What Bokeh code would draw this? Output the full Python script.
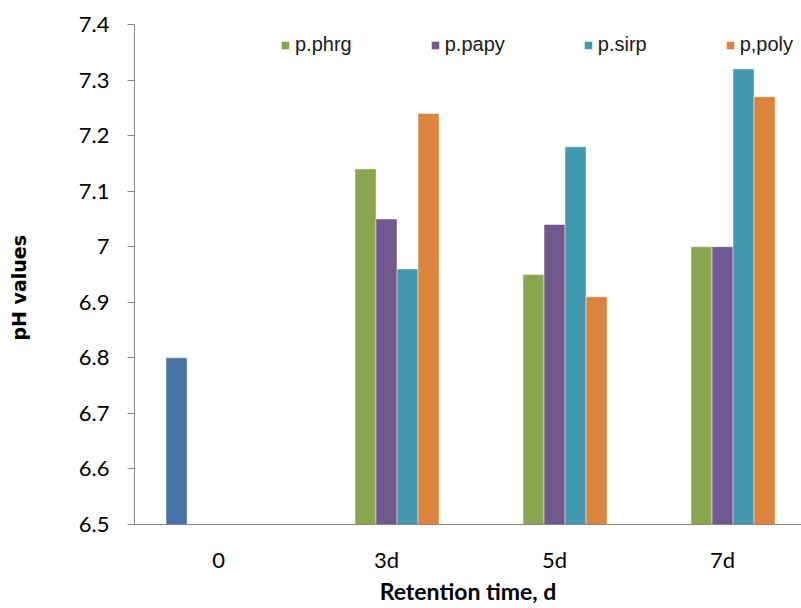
from bokeh.plotting import figure
from bokeh.models import Range1d, FixedTicker, Legend, LegendItem, ColumnDataSource
from bokeh.embed import file_html
from bokeh.resources import INLINE

categories = ["0", "3d", "5d", "7d"]
initial = [6.80, None, None, None]
p_phrg = [None, 7.14, 6.95, 7.00]
p_papy = [None, 7.05, 7.04, 7.00]
p_sirp = [None, 6.96, 7.18, 7.32]
p_poly = [None, 7.24, 6.91, 7.27]
series_names = ["p.phrg", "p.papy", "p.sirp", "p,poly"]
y_ticks = [6.5, 6.6, 6.7, 6.8, 6.9, 7.0, 7.1, 7.2, 7.3, 7.4]
y_tick_labels = ["6.5", "6.6", "6.7", "6.8", "6.9", "7", "7.1", "7.2", "7.3", "7.4"]

colors = ["#4572A7", "#89A54E", "#71588F", "#4198AF", "#DB843D"]
all_series = [initial, p_phrg, p_papy, p_sirp, p_poly]
bar_w = 0.125
offsets = [-0.25, -0.125, 0.0, 0.125, 0.25]

W, H = 801, 608
p = figure(width=W, height=H, output_backend="svg", toolbar_location=None,
           x_range=Range1d(-0.5, 3.47), y_range=Range1d(6.5, 7.4),
           min_border_left=134, min_border_right=0, min_border_top=24,
           min_border_bottom=84)
p.outline_line_color = None
p.xgrid.grid_line_color = None
p.ygrid.grid_line_color = None
p.background_fill_color = "white"
p.border_fill_color = "white"

renderers = []
for s, vals in enumerate(all_series):
    xs = [i + offsets[s] for i in range(len(categories))]
    tops = [float("nan") if v is None else v for v in vals]
    src = ColumnDataSource(dict(x=xs, top=tops))
    r = p.vbar(x="x", top="top", bottom=6.5, width=bar_w, source=src,
               fill_color=colors[s], line_color="white", line_alpha=0.45, line_width=1)
    renderers.append(r)

items = [LegendItem(label=series_names[k], renderers=[renderers[k + 1]]) for k in range(4)]
legend = Legend(items=items, orientation="horizontal", location=(146, 468),
                padding=0, margin=0, spacing=78, label_standoff=5,
                glyph_width=10, glyph_height=10,
                label_text_font="Liberation Sans", label_text_font_size="20px",
                label_text_color="#1a1a1a",
                border_line_color=None, background_fill_alpha=0)
p.add_layout(legend, "center")

# x axis
p.xaxis.ticker = FixedTicker(ticks=list(range(len(categories))))
p.xaxis.major_label_overrides = {i: c for i, c in enumerate(categories)}
p.xaxis.major_tick_out = 0
p.xaxis.major_tick_in = 0
p.xaxis.minor_tick_line_color = None
p.xaxis.axis_line_color = "#868686"
p.xaxis.major_label_text_font = "Lato"
p.xaxis.major_label_text_font_size = "22px"
p.xaxis.major_label_text_color = "black"
p.xaxis.major_label_standoff = 21
p.xaxis.axis_label = "Retention time, d"
p.xaxis.axis_label_text_font = "Lato"
p.xaxis.axis_label_text_font_size = "23px"
p.xaxis.axis_label_text_font_style = "bold"
p.xaxis.axis_label_text_color = "black"
p.xaxis.axis_label_standoff = 1

# y axis
p.yaxis.ticker = FixedTicker(ticks=y_ticks)
p.yaxis.major_label_overrides = {t: l for t, l in zip(y_ticks, y_tick_labels)}
p.yaxis.major_tick_out = 7
p.yaxis.major_tick_in = 0
p.yaxis.major_tick_line_color = "#868686"
p.yaxis.minor_tick_line_color = None
p.yaxis.axis_line_color = "#868686"
p.yaxis.major_label_text_font = "Lato"
p.yaxis.major_label_text_font_size = "22px"
p.yaxis.major_label_text_color = "black"
p.yaxis.major_label_standoff = 18
p.yaxis.axis_label = "pH values\u00a0\u00a0\u00a0\u00a0"
p.yaxis.axis_label_text_font = "DejaVu Sans"
p.yaxis.axis_label_text_font_size = "19px"
p.yaxis.axis_label_text_font_style = "bold"
p.yaxis.axis_label_text_color = "black"
p.yaxis.axis_label_standoff = 46

open("out.html", "w").write(file_html(p, INLINE))
